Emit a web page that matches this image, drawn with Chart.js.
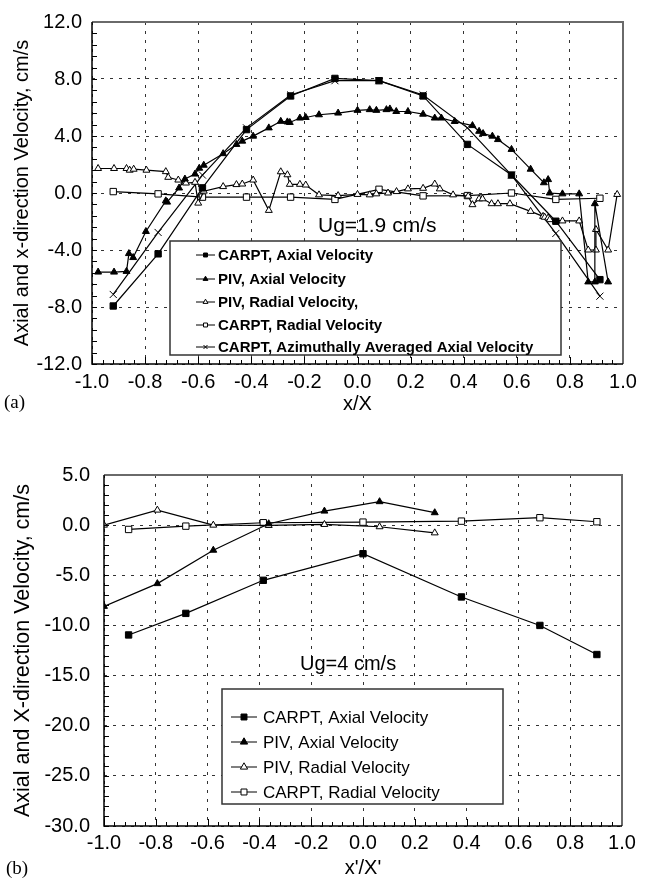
<!DOCTYPE html>
<html>
<head>
<meta charset="utf-8">
<script src="https://cdn.jsdelivr.net/npm/chart.js@4.4.1/dist/chart.umd.min.js"></script>
<style>
  html, body { margin: 0; padding: 0; background: #fff; }
  #wrap { position: relative; width: 647px; height: 892px; }
  canvas { position: absolute; left: 0; top: 0; }
</style>
</head>
<body>
<div id="wrap">
  <canvas id="chartA" width="647" height="892"></canvas>
  <canvas id="chartB" width="647" height="892"></canvas>
</div>
<script>
// ---------- panel (a), Ug = 1.9 cm/s ----------
const a_carpt_x = [-0.920, -0.751, -0.584, -0.418, -0.252, -0.085, 0.081, 0.247, 0.414, 0.580, 0.747, 0.913];
const a_carptAxial_y = [-7.93, -4.27, 0.36, 4.45, 6.81, 8.04, 7.88, 6.81, 3.41, 1.26, -1.98, -6.08];
const a_carptRadial_y = [0.10, -0.06, -0.29, -0.29, -0.29, -0.45, 0.26, -0.20, -0.18, 0.00, -0.45, -0.37];
const a_carptAzim_y = [-7.12, -2.77, 1.26, 4.57, 6.88, 7.88, 7.88, 6.88, 4.57, 1.26, -2.84, -7.24];

const a_pivAxial_x = [-0.977, -0.917, -0.870, -0.861, -0.845, -0.797, -0.722, -0.717, -0.672, -0.650, -0.612, -0.596, -0.579,
  -0.506, -0.456, -0.434, -0.393, -0.334, -0.289, -0.264, -0.255, -0.217, -0.195, -0.145, -0.073, 0.000, 0.046, 0.071,
  0.109, 0.122, 0.146, 0.190, 0.247, 0.291, 0.316, 0.366, 0.433, 0.458, 0.473, 0.508, 0.529, 0.580, 0.652, 0.702,
  0.718, 0.724, 0.772, 0.835, 0.869, 0.894, 0.894, 0.944];
const a_pivAxial_y = [-5.55, -5.55, -5.50, -4.25, -4.53, -2.70, -0.55, -0.64, 0.35, 0.98, 1.33, 1.74, 1.95,
  2.76, 3.41, 3.64, 3.99, 4.57, 5.03, 4.99, 4.95, 5.26, 5.30, 5.49, 5.61, 5.80, 5.85, 5.80,
  5.85, 5.90, 5.72, 5.72, 5.53, 5.26, 5.26, 5.02, 4.73, 4.33, 4.17, 3.99, 3.75, 3.06, 1.67, 0.72,
  0.94, 0.00, -0.06, -0.06, -6.24, -6.24, -0.75, -6.24];

const a_pivRadial_x = [-0.977, -0.917, -0.870, -0.858, -0.843, -0.795, -0.722, -0.713, -0.675, -0.653, -0.646, -0.612, -0.600,
  -0.579, -0.506, -0.456, -0.434, -0.393, -0.334, -0.289, -0.264, -0.255, -0.217, -0.195, -0.145, -0.073, 0.000,
  0.046, 0.071, 0.115, 0.147, 0.190, 0.247, 0.291, 0.310, 0.360, 0.417, 0.433, 0.458, 0.471, 0.505, 0.529, 0.574,
  0.652, 0.699, 0.705, 0.718, 0.724, 0.772, 0.835, 0.869, 0.898, 0.898, 0.944, 0.978];
const a_pivRadial_y = [1.72, 1.72, 1.72, 1.60, 1.67, 1.60, 1.50, 1.10, 0.91, 0.75, 0.70, 0.75, -0.71,
  0.13, 0.45, 0.59, 0.63, 0.91, -1.22, 1.49, 1.28, 0.61, 0.61, 0.56, -0.13, -0.18, -0.10,
  -0.13, -0.06, 0.00, 0.10, 0.29, 0.33, 0.63, 0.29, -0.13, -0.22, -0.82, -0.41, -0.41, -0.75, -0.75, -0.75,
  -1.29, -1.64, -1.70, -1.75, -1.87, -1.96, -1.96, -4.00, -4.00, -2.56, -4.00, -0.10];

const a_xTicks = [-1.0, -0.8, -0.6, -0.4, -0.2, 0.0, 0.2, 0.4, 0.6, 0.8, 1.0];
const a_yTicks = [-12, -8, -4, 0, 4, 8, 12];

// ---------- panel (b), Ug = 4 cm/s ----------
const b_carpt_x = [-0.905, -0.684, -0.385, 0.000, 0.380, 0.683, 0.903];
const b_carptAxial_y = [-10.95, -8.80, -5.50, -2.85, -7.16, -10.00, -12.90];
const b_carptRadial_y = [-0.43, -0.10, 0.24, 0.30, 0.40, 0.74, 0.34];
const b_piv_x = [-1.000, -0.794, -0.578, -0.364, -0.149, 0.064, 0.277];
const b_pivAxial_y = [-8.10, -5.83, -2.50, 0.14, 1.40, 2.34, 1.24];
const b_pivRadial_y = [0.00, 1.50, 0.00, -0.03, 0.07, -0.16, -0.77];

const b_xTicks = [-1.0, -0.8, -0.6, -0.4, -0.2, 0.0, 0.2, 0.4, 0.6, 0.8, 1.0];
const b_yTicks = [-30, -25, -20, -15, -10, -5, 0, 5];

const FONT = "'Liberation Sans', Arial, Helvetica, sans-serif";
Chart.defaults.font.family = FONT;
Chart.defaults.color = '#000';

function zip(xs, ys) { return xs.map((x, i) => ({ x: x, y: ys[i] })); }
function fmt(v) { return Math.abs(v) < 1e-9 ? '0.0' : Number(v).toFixed(1); }

function series(label, xs, ys, style, filled, radius) {
  return {
    label: label,
    data: zip(xs, ys),
    showLine: true,
    borderColor: '#000',
    borderWidth: 1.2,
    pointStyle: style,
    pointRadius: radius,
    pointHoverRadius: radius,
    pointBorderColor: '#000',
    pointBorderWidth: 1,
    pointBackgroundColor: filled ? '#000' : '#fff',
    filled: filled
  };
}

function drawMarker(ctx, style, filled, x, y, r) {
  ctx.beginPath();
  if (style === 'rect') {
    const s = r * Math.SQRT1_2;
    ctx.rect(x - s, y - s, 2 * s, 2 * s);
  } else if (style === 'triangle') {
    ctx.moveTo(x, y - r);
    ctx.lineTo(x + r * 0.866, y + r * 0.5);
    ctx.lineTo(x - r * 0.866, y + r * 0.5);
    ctx.closePath();
  } else {
    const s = r * Math.SQRT1_2;
    ctx.moveTo(x - s, y - s); ctx.lineTo(x + s, y + s);
    ctx.moveTo(x + s, y - s); ctx.lineTo(x - s, y + s);
  }
  if (style !== 'crossRot') {
    ctx.fillStyle = filled ? '#000' : '#fff';
    ctx.fill();
  }
  ctx.stroke();
}

// frame, inward tick marks, legend box and annotations
const decoPlugin = {
  id: 'deco',
  afterDraw(chart, args, o) {
    const ctx = chart.ctx;
    const ca = chart.chartArea;
    const xs = chart.scales.x, ys = chart.scales.y;
    ctx.save();
    ctx.strokeStyle = '#000';
    ctx.lineWidth = 1;
    ctx.setLineDash([]);

    // tick marks pointing into the plot
    ctx.beginPath();
    let n = Math.round((xs.max - xs.min) / o.xMinor);
    for (let i = 0; i <= n; i++) {
      const px = Math.round(xs.getPixelForValue(xs.min + i * o.xMinor)) + 0.5;
      const len = (i % Math.round(0.2 / o.xMinor) === 0) ? 7 : 4;
      ctx.moveTo(px, ca.bottom); ctx.lineTo(px, ca.bottom - len);
    }
    n = Math.round((ys.max - ys.min) / o.yMinor);
    for (let i = 0; i <= n; i++) {
      const py = Math.round(ys.getPixelForValue(ys.min + i * o.yMinor)) + 0.5;
      ctx.moveTo(ca.left, py); ctx.lineTo(ca.left + 5, py);
    }
    ctx.stroke();

    // frame: top/right grey, left/bottom black
    ctx.strokeStyle = '#6a6a6a';
    ctx.lineWidth = 2;
    ctx.beginPath();
    ctx.moveTo(ca.left, ca.top); ctx.lineTo(ca.right, ca.top); ctx.lineTo(ca.right, ca.bottom);
    ctx.stroke();
    ctx.strokeStyle = '#000';
    ctx.lineWidth = 1.5;
    ctx.beginPath();
    ctx.moveTo(ca.left, ca.top); ctx.lineTo(ca.left, ca.bottom); ctx.lineTo(ca.right, ca.bottom);
    ctx.stroke();

    // legend
    const L = o.legend;
    ctx.fillStyle = '#fff';
    ctx.fillRect(L.box[0], L.box[1], L.box[2] - L.box[0], L.box[3] - L.box[1]);
    ctx.strokeStyle = '#333';
    ctx.lineWidth = 1.5;
    ctx.strokeRect(L.box[0], L.box[1], L.box[2] - L.box[0], L.box[3] - L.box[1]);
    ctx.lineWidth = 1;
    ctx.strokeStyle = '#000';
    chart.data.datasets.forEach((ds, i) => {
      const y = L.rows[i];
      ctx.beginPath();
      ctx.moveTo(L.lineX[0], y); ctx.lineTo(L.lineX[1], y);
      ctx.stroke();
      drawMarker(ctx, ds.pointStyle, ds.filled, (L.lineX[0] + L.lineX[1]) / 2, y, L.markR);
      ctx.save();
      ctx.fillStyle = '#000';
      ctx.font = L.font;
      ctx.textBaseline = 'middle';
      ctx.textAlign = 'left';
      ctx.translate(L.textX, y + 1);
      ctx.scale(L.squeeze, 1);
      ctx.fillText(ds.label, 0, 0);
      ctx.restore();
    });

    // flow-rate note
    ctx.fillStyle = '#000';
    ctx.font = o.note.font;
    ctx.textBaseline = 'middle';
    ctx.textAlign = 'left';
    ctx.fillText(o.note.text, o.note.x, o.note.y);

    // panel tag
    ctx.font = "19px 'Liberation Serif', 'Times New Roman', serif";
    ctx.fillText(o.tag.text, o.tag.x, o.tag.y);
    ctx.restore();
  }
};

function axes(xTicks, yTicks, yMin, yMax, xTitle, yTitle, yTitleSize, yWidth, xHeight, xTitlePad, xTickPad, yTickPad) {
  return {
    x: {
      type: 'linear', min: -1, max: 1,
      afterBuildTicks: s => { s.ticks = xTicks.map(v => ({ value: v })); },
      afterFit: s => { s.height = xHeight; },
      ticks: { font: { size: 20 }, color: '#000', padding: xTickPad, callback: v => fmt(v), maxRotation: 0, autoSkip: false },
      grid: { color: '#333', lineWidth: 1, drawTicks: false },
      border: { display: false, dash: [3, 6] },
      title: { display: true, text: xTitle, font: { size: 20 }, color: '#000', padding: { top: 0, bottom: xTitlePad } }
    },
    y: {
      type: 'linear', min: yMin, max: yMax,
      afterBuildTicks: s => { s.ticks = yTicks.map(v => ({ value: v })); },
      afterFit: s => { s.width = yWidth; },
      ticks: { font: { size: 20 }, color: '#000', padding: yTickPad, callback: v => fmt(v), autoSkip: false },
      grid: { color: '#333', lineWidth: 1, drawTicks: false },
      border: { display: false, dash: [3, 6] },
      title: { display: true, text: yTitle, font: { size: yTitleSize }, color: '#000', padding: { top: 10, bottom: 0 } }
    }
  };
}

new Chart(document.getElementById('chartA'), {
  type: 'scatter',
  data: {
    datasets: [
      series('CARPT, Axial Velocity', a_carpt_x, a_carptAxial_y, 'rect', true, 4.5),
      series('PIV, Axial Velocity', a_pivAxial_x, a_pivAxial_y, 'triangle', true, 4),
      series('PIV, Radial Velocity,', a_pivRadial_x, a_pivRadial_y, 'triangle', false, 4),
      series('CARPT, Radial Velocity', a_carpt_x, a_carptRadial_y, 'rect', false, 4.5),
      series('CARPT, Azimuthally Averaged Axial Velocity', a_carpt_x, a_carptAzim_y, 'crossRot', false, 5)
    ]
  },
  options: {
    responsive: false,
    animation: false,
    layout: { padding: { left: 0, top: 18, right: 24, bottom: 472 } },
    scales: axes(a_xTicks, a_yTicks, -12, 12, 'x/X', 'Axial and x-direction Velocity, cm/s', 20, 92, 56, 4, 6, 10),
    plugins: {
      legend: { display: false },
      tooltip: { enabled: false },
      deco: {
        xMinor: 0.04, yMinor: 0.8,
        legend: { box: [170, 241, 561, 355], rows: [255, 279, 302, 325, 347],
          lineX: [196, 215], textX: 218, markR: 2.8, font: "bold 15px " + FONT, squeeze: 1.0 },
        note: { text: 'Ug=1.9 cm/s', x: 318, y: 226, font: '21px ' + FONT },
        tag: { text: '(a)', x: 4, y: 403 }
      }
    }
  },
  plugins: [decoPlugin]
});

new Chart(document.getElementById('chartB'), {
  type: 'scatter',
  data: {
    datasets: [
      series('CARPT, Axial Velocity', b_carpt_x, b_carptAxial_y, 'rect', true, 4.5),
      series('PIV, Axial Velocity', b_piv_x, b_pivAxial_y, 'triangle', true, 4),
      series('PIV, Radial Velocity', b_piv_x, b_pivRadial_y, 'triangle', false, 4),
      series('CARPT, Radial Velocity', b_carpt_x, b_carptRadial_y, 'rect', false, 4.5)
    ]
  },
  options: {
    responsive: false,
    animation: false,
    layout: { padding: { left: 0, top: 475, right: 25, bottom: 0 } },
    scales: axes(b_xTicks, b_yTicks, -30, 5, "x'/X'", 'Axial and X-direction Velocity, cm/s', 21.5, 104, 66, 12, 5, 14),
    plugins: {
      legend: { display: false },
      tooltip: { enabled: false },
      deco: {
        xMinor: 0.04, yMinor: 1,
        legend: { box: [222, 689, 503, 804], rows: [717, 742, 767, 792],
          lineX: [231, 257], textX: 263, markR: 4.2, font: "17px " + FONT, squeeze: 1 },
        note: { text: 'Ug=4 cm/s', x: 300, y: 664, font: '20px ' + FONT },
        tag: { text: '(b)', x: 6, y: 869 }
      }
    }
  },
  plugins: [decoPlugin]
});
</script>
</body>
</html>
